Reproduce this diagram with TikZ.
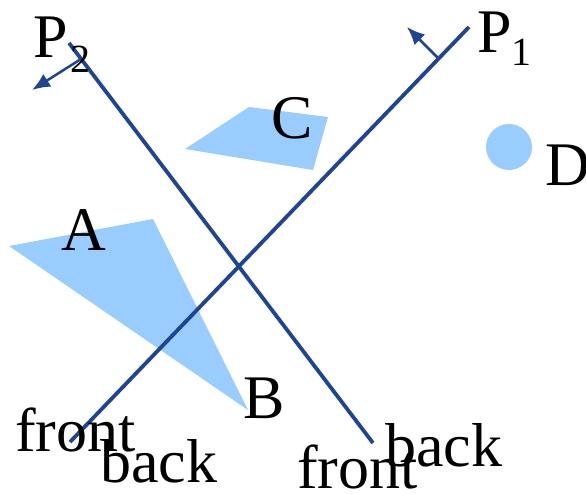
\documentclass[tikz,border=0pt]{standalone}
\usepackage{fontspec}
\setmainfont{Liberation Serif}
\usetikzlibrary{arrows.meta}
\definecolor{planeblue}{RGB}{30,68,150}
\definecolor{objblue}{RGB}{153,204,255}
\tikzset{
  plane/.style={draw=planeblue, line width=3.8pt},
  normal/.style={draw=planeblue, line width=2.5pt, -{Latex[length=18pt,width=15pt]}},
  obj/.style={fill=objblue, draw=none},
  lbl/.style={anchor=base west, inner sep=0pt, font=\fontsize{62}{62}\selectfont},
  sub/.style={anchor=base west, inner sep=0pt, font=\fontsize{40}{40}\selectfont},
}
\begin{document}
\begin{tikzpicture}[x=1pt,y=-1pt]
\useasboundingbox (0,0) rectangle (586,493);
% objects
\fill[obj] (185,149) -- (249,107) -- (328,117) -- (313,170) -- cycle;
\fill[obj] (9,246) -- (153,219) -- (248,410) -- cycle;
\fill[obj] (509,147) circle (23);
% planes
\coordinate (p1a) at (70,442);
\coordinate (p1b) at (469,27);
\coordinate (p2a) at (69,43);
\coordinate (p2b) at (373,443);
\draw[plane] (p1a) -- (p1b);
\draw[plane] (p2a) -- (p2b);
% normals
\coordinate (n1s) at (438,58);
\coordinate (n1e) at (407,27);
\coordinate (n2s) at (81,59);
\coordinate (n2e) at (32,90);
\draw[normal] (n1s) -- (n1e);
\draw[normal] (n2s) -- (n2e);
% labels
\node[lbl] (lP2) at (33,57) {P};
\node[sub] (lP2s) at (70,72) {2};
\node[lbl] (lP1) at (477,52) {P};
\node[sub] (lP1s) at (511,65) {1};
\node[lbl] (lC) at (271,138) {C};
\node[lbl] (lD) at (545,185) {D};
\node[lbl] (lA) at (61,250) {A};
\node[lbl] (lB) at (243,418) {B};
\node[lbl] (f1) at (15,451) {front};
\node[lbl] (b1) at (100,482) {back};
\node[lbl] (f2) at (297,488) {front};
\node[lbl] (b2) at (385,466) {back};
\end{tikzpicture}
\end{document}
